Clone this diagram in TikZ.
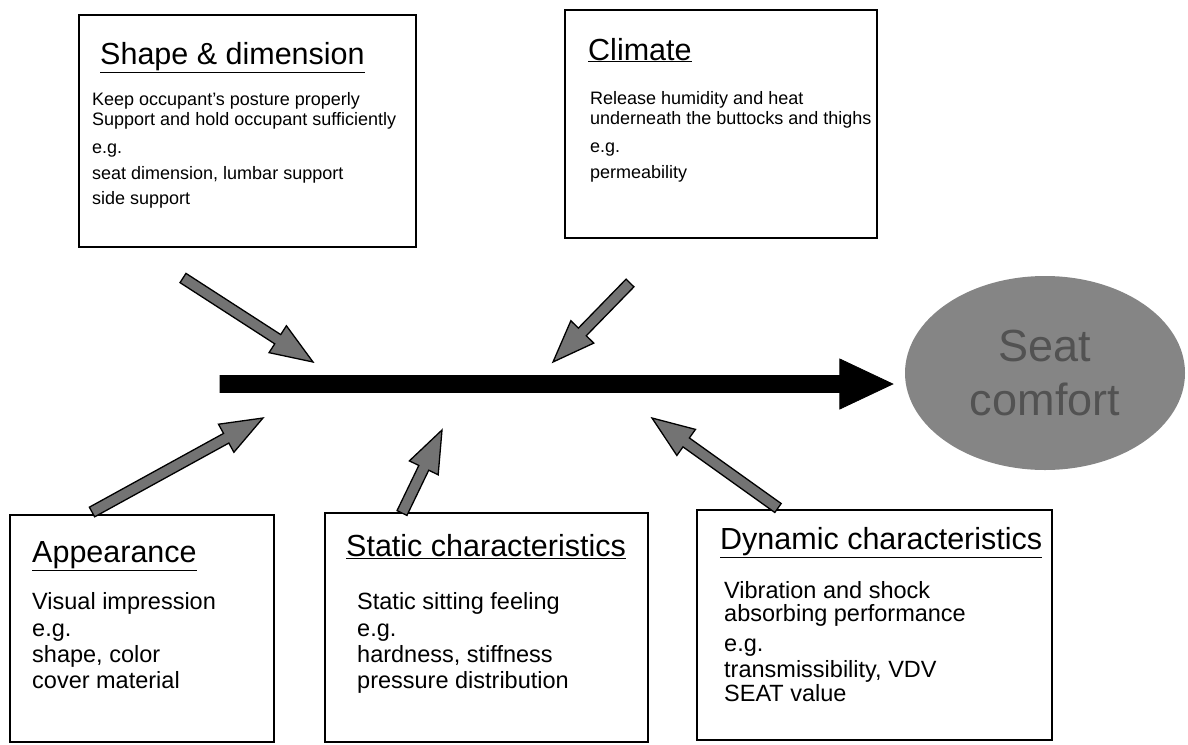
\documentclass[tikz,border=0pt]{standalone}
\usepackage{fontspec}
\setmainfont{Liberation Sans}
\usetikzlibrary{calc,shapes.geometric}
\newcommand\drawfat[6]{% #1 style, #2 start, #3 end, #4 shaft half-width, #5 head half-width, #6 head length
  \path ($(#3)!#6!(#2)$) coordinate (fb);
  \filldraw[#1] ($(#2)!#4!90:(#3)$) -- ($(fb)!#4!-90:(#2)$) -- ($(fb)!#5!-90:(#2)$) -- (#3)
     -- ($(fb)!#5!90:(#2)$) -- ($(fb)!#4!90:(#2)$) -- ($(#2)!#4!-90:(#3)$) -- cycle;
}
\begin{document}
\begin{tikzpicture}[x=1pt,y=-1pt,
  boxline/.style={line width=1.2pt},
  ttl/.style={anchor=base west, inner sep=0, font=\fontsize{30.5}{32}\selectfont},
  bodys/.style={anchor=base west, inner sep=0, font=\fontsize{18}{22}\selectfont},
  bodyl/.style={anchor=base west, inner sep=0, font=\fontsize{23.5}{26}\selectfont},
  grayarrow/.style={fill=black!55, draw=black, line width=1.3pt, line join=miter},
  mainarrow/.style={fill=black, draw=black, line width=0.8pt, line join=miter},
  ]
\useasboundingbox (0,0) rectangle (1188,744);

% boxes
\draw[boxline] (79,15) rectangle (416,247);
\draw[boxline] (565,10) rectangle (877,238);
\draw[boxline] (10,515) rectangle (274,742);
\draw[boxline] (325,513) rectangle (648,742);
\draw[boxline] (697,510) rectangle (1052,740);

% Shape & dimension
\node[ttl] (t1) at (100,64) {\underline{Shape \& dimension}};
\node[bodys] (b1a) at (92,105) {Keep occupant's posture properly};
\node[bodys] (b1b) at (92,125) {Support and hold occupant sufficiently};
\node[bodys] (b1c) at (92,153) {e.g.};
\node[bodys] (b1d) at (92,179) {seat dimension, lumbar support};
\node[bodys] (b1e) at (92,204) {side support};

% Climate
\node[ttl] (t2) at (588,60) {\underline{Climate}};
\node[bodys] (b2a) at (590,104) {Release humidity and heat};
\node[bodys] (b2b) at (590,124) {underneath the buttocks and thighs};
\node[bodys] (b2c) at (590,152) {e.g.};
\node[bodys] (b2d) at (590,178) {permeability};

% Appearance
\node[ttl] (t3) at (32,562) {\underline{Appearance}};
\node[bodyl] (b3a) at (32,609) {Visual impression};
\node[bodyl] (b3b) at (32,636) {e.g.};
\node[bodyl] (b3c) at (32,662) {shape, color};
\node[bodyl] (b3d) at (32,688) {cover material};

% Static characteristics
\node[ttl] (t4) at (346,556) {\underline{Static characteristics}};
\node[bodyl] (b4a) at (357,609) {Static sitting feeling};
\node[bodyl] (b4b) at (357,636) {e.g.};
\node[bodyl] (b4c) at (357,662) {hardness, stiffness};
\node[bodyl] (b4d) at (357,688) {pressure distribution};

% Dynamic characteristics
\node[ttl] (t5) at (720,549) {\underline{Dynamic characteristics}};
\node[bodyl] (b5a) at (724,598) {Vibration and shock};
\node[bodyl] (b5b) at (724,621) {absorbing performance};
\node[bodyl] (b5c) at (724,651) {e.g.};
\node[bodyl] (b5d) at (724,677) {transmissibility, VDV};
\node[bodyl] (b5e) at (724,701) {SEAT value};

% goal ellipse
\node[ellipse, fill=black!48, draw=none, minimum width=280pt, minimum height=194pt, inner sep=0,
      align=center, text=black!68, font=\fontsize{45}{54}\selectfont] (goal) at (1045,373) {Seat\\comfort};

% spine
\coordinate (spinestart) at (220,384);
\coordinate (spinetip) at ($(goal.west)+(-12,11)$);
\drawfat{mainarrow}{spinestart}{spinetip}{8.5pt}{25pt}{53pt}

% branch arrows
\coordinate (a1s) at (183,278); \coordinate (a1e) at (313,362);
\coordinate (a2s) at (630,283); \coordinate (a2e) at (553,362);
\coordinate (a3s) at (92,512);  \coordinate (a3e) at (263,418);
\coordinate (a4s) at (402,513); \coordinate (a4e) at (442,430);
\coordinate (a5s) at (778,508); \coordinate (a5e) at (652,418);
\drawfat{grayarrow}{a1s}{a1e}{5.5pt}{16pt}{42pt}
\drawfat{grayarrow}{a2s}{a2e}{5.5pt}{16pt}{42pt}
\drawfat{grayarrow}{a3s}{a3e}{5.5pt}{16pt}{42pt}
\drawfat{grayarrow}{a4s}{a4e}{5.5pt}{16pt}{42pt}
\drawfat{grayarrow}{a5s}{a5e}{5.5pt}{16pt}{42pt}
\end{tikzpicture}
\end{document}
